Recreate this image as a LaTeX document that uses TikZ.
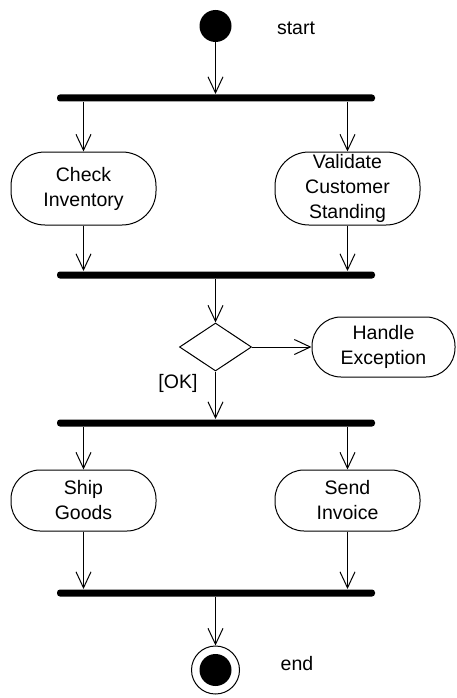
\documentclass[tikz,border=0pt]{standalone}
\usepackage{fontspec}
\setmainfont{Liberation Sans}
\usetikzlibrary{arrows.meta,shapes.geometric}
\begin{document}
\begin{tikzpicture}[x=1pt,y=-1pt, line width=1pt,
  >={Straight Barb[length=16pt,width=15pt]},
  act/.style={draw, rounded corners=34pt, minimum width=145pt, minimum height=73pt, inner sep=0pt, align=center, font=\fontsize{19.5}{25}\selectfont},
  bar/.style={fill=black, rounded corners=3pt, minimum width=318pt, minimum height=7pt, inner sep=0pt},
  lbl/.style={font=\fontsize{19.5}{25}\selectfont, inner sep=0pt}]
\useasboundingbox (0,0) rectangle (456,698);
\node[circle, fill=black, minimum size=32pt, inner sep=0pt] (start) at (215.5,26) {};
\node[lbl] (startl) at (296,28) {start};
\node[bar] (b1) at (216,98) {};
\node[act] (check) at (83.5,188.5) {Check\\Inventory};
\node[act] (valid) at (347.5,188.5) {Validate\\Customer\\Standing};
\node[bar] (b2) at (216,275) {};
\node[diamond, draw, minimum width=72pt, minimum height=48pt, inner sep=0pt] (dec) at (215.5,347) {};
\node[act, rounded corners=29pt, minimum width=143pt, minimum height=60pt] (exc) at (383.5,347) {Handle\\Exception};
\node[lbl] (ok) at (178,383) {[OK]};
\node[bar] (b3) at (216,423) {};
\node[act, rounded corners=29pt, minimum height=61pt] (ship) at (83.5,500.5) {Ship\\Goods};
\node[act, rounded corners=29pt, minimum height=61pt] (send) at (347.5,500.5) {Send\\Invoice};
\node[bar] (b4) at (216,593) {};
\node[circle, draw, minimum size=48pt, inner sep=0pt] (end) at (215.5,670) {};
\node[circle, fill=black, minimum size=32pt, inner sep=0pt] (endin) at (end.center) {};
\node[lbl] (endl) at (297,664) {end};
\draw[->] (start) -- (start |- b1.north);
\draw[->] (b1.south -| check) -- (check.north);
\draw[->] (b1.south -| valid) -- (valid.north);
\draw[->] (check.south) -- (check |- b2.north);
\draw[->] (valid.south) -- (valid |- b2.north);
\draw[->] (b2.south -| dec) -- (dec.north);
\draw[->] (dec.east) -- (exc.west);
\draw[->] (dec.south) -- (dec |- b3.north);
\draw[->] (b3.south -| ship) -- (ship.north);
\draw[->] (b3.south -| send) -- (send.north);
\draw[->] (ship.south) -- (ship |- b4.north);
\draw[->] (send.south) -- (send |- b4.north);
\draw[->] (b4.south -| end) -- (end.north);
\end{tikzpicture}
\end{document}
